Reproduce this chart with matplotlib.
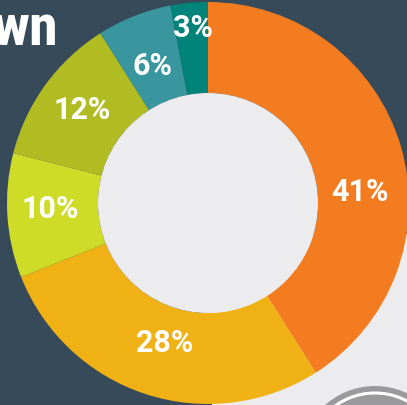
import numpy as np
import matplotlib
matplotlib.use("Agg")
import matplotlib.pyplot as plt
from matplotlib.patches import Circle, Rectangle
from matplotlib import font_manager

# ---- data ----
labels = ["41%", "28%", "10%", "12%", "6%", "3%"]
values = [41, 28, 10, 12, 6, 3]
colors = ["#F47C20", "#F0B114", "#CEDC27", "#B1BC22", "#3A969E", "#00847A"]
title_text = "wn"

# ---- style ----
BG_DARK = "#374A5A"
BG_LIGHT = "#ECECEE"
HOLE = "#ECECEE"

def pick_font(cands):
    for c in cands:
        try:
            font_manager.findfont(font_manager.FontProperties(family=c), fallback_to_default=False)
            return c
        except Exception:
            continue
    return "DejaVu Sans"

label_font = pick_font(["Roboto", "DejaVu Sans"])
title_font = pick_font(["Liberation Sans Narrow", "Roboto Condensed", "Roboto", "DejaVu Sans"])

W, H = 407, 406
fig = plt.figure(figsize=(W / 100, H / 100), dpi=100)
fig.patch.set_facecolor(BG_DARK)
ax = fig.add_axes([0, 0, 1, 1])
ax.set_facecolor(BG_DARK)

# pixel coordinate system (y up)
cx, cy = 208, H - 204
R_out, R_in = 201, 110

# light panel at bottom right
ax.add_patch(Rectangle((212, 0), W - 212, H - 235, facecolor=BG_LIGHT, edgecolor="none", zorder=0))

# icon circle at bottom right
ax.add_patch(Circle((375, H - 462), 75, facecolor="#9A9A9C", edgecolor="none", zorder=1))
ax.add_patch(Circle((375, H - 462), 68, facecolor="none", edgecolor="white", linewidth=2.2, zorder=1))

wedges, _ = ax.pie(values, colors=colors, startangle=90, counterclock=False,
                   center=(cx, cy), radius=R_out,
                   wedgeprops=dict(width=R_out - R_in, edgecolor="none", linewidth=0))
for w in wedges:
    w.set_zorder(2)
ax.add_patch(Circle((cx, cy), R_in, facecolor=HOLE, edgecolor="none", zorder=3))

# label positions (radius, angle offset from slice mid-angle)
label_r = [152, 146, 158, 157, 149, 177]
label_da = [-11.7, 0.8, -1.8, -0.7, 0.1, -0.6]
start = 90.0
for lab, v, r, da in zip(labels, values, label_r, label_da):
    span = 360.0 * v / sum(values)
    mid = start - span / 2 + da
    start -= span
    x = cx + r * np.cos(np.radians(mid))
    y = cy + r * np.sin(np.radians(mid))
    ax.text(x, y, lab, ha="center", va="center", color="white",
            fontsize=22, fontweight="bold", family=label_font, zorder=5)

ax.text(58, H - 45, title_text, ha="right", va="baseline", color="white",
        fontsize=42, fontweight="bold", family=title_font, zorder=5)

ax.set_xlim(0, W)
ax.set_ylim(0, H)
ax.set_aspect("auto")
ax.axis("off")

fig.savefig("out.png", dpi=100, facecolor=BG_DARK)
